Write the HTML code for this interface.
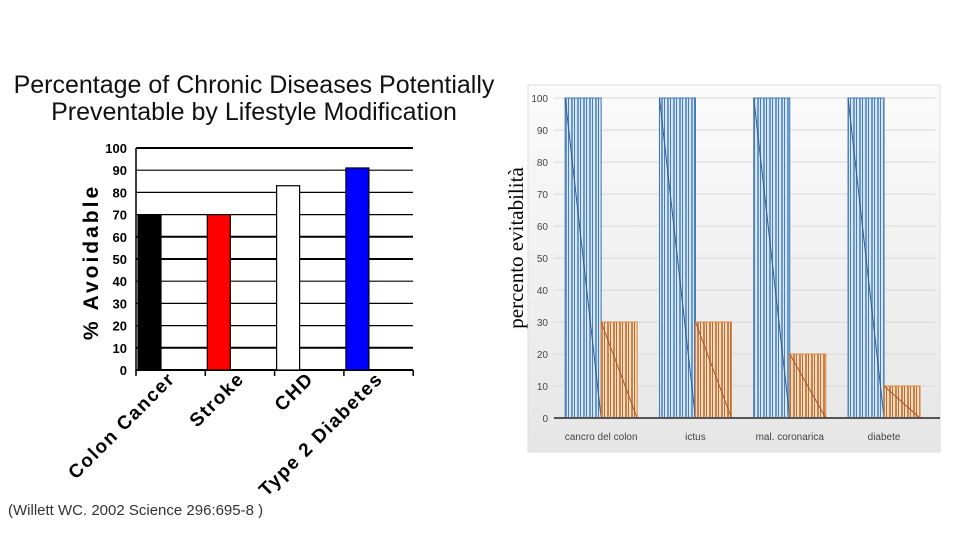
<!DOCTYPE html>
<html><head><meta charset="utf-8"><style>
body{margin:0;background:#fff;width:960px;height:540px;overflow:hidden;font-family:"Liberation Sans",sans-serif}
</style></head><body>
<svg width="960" height="540" xmlns="http://www.w3.org/2000/svg">
<defs>
<pattern id="pb" width="6" height="10" patternUnits="userSpaceOnUse"><rect width="6" height="10" fill="#d8e6f5"/><rect x="1" width="2" height="10" fill="#6a9bd0"/><rect x="4" width="1" height="10" fill="#4a7db8"/></pattern>
<pattern id="po" width="6" height="10" patternUnits="userSpaceOnUse"><rect width="6" height="10" fill="#f8dcc4"/><rect x="1" width="2" height="10" fill="#cc8247"/><rect x="4" width="1" height="10" fill="#bb6b30"/></pattern>
<linearGradient id="bg" x1="0" y1="0" x2="0" y2="1"><stop offset="0" stop-color="#fbfbfb"/><stop offset="1" stop-color="#e6e6e6"/></linearGradient>
</defs>
<g id="left">
<text x="254" y="93" text-anchor="middle" font-size="25" fill="#111">Percentage of Chronic Diseases Potentially</text>
<text x="254" y="120" text-anchor="middle" font-size="25" fill="#111">Preventable by Lifestyle Modification</text>
<text transform="translate(98,262) rotate(-90)" text-anchor="middle" font-size="21" font-weight="bold" letter-spacing="3">% Avoidable</text>
<g id="lgrid"></g>
<g id="lbars"></g>
<text x="8" y="515" font-size="15" fill="#333">(Willett WC. 2002 Science 296:695-8 )</text>
</g>
<g id="right">
<rect x="528" y="85" width="412" height="367" fill="url(#bg)" stroke="#ddd"/>
<text transform="translate(523,248) rotate(-90)" text-anchor="middle" font-size="21" font-family="Liberation Serif,serif">percento evitabilità</text>
<g id="rgrid"></g>
<g id="rbars"></g>
</g>
</svg>
<script>
const lCats=["Colon Cancer","Stroke","CHD","Type 2 Diabetes"];
const lVals=[70,70,83,91];
const lColors=["#000","#f00","#fff","#00f"];
const lTicks=[0,10,20,30,40,50,60,70,80,90,100];
const rCats=["cancro del colon","ictus","mal. coronarica","diabete"];
const rBlue=[100,100,100,100];
const rOrange=[30,30,20,10];
const rTicks=[0,10,20,30,40,50,60,70,80,90,100];
const NS="http://www.w3.org/2000/svg";
function mk(p,t,a){const e=document.createElementNS(NS,t);for(const k in a)e.setAttribute(k,a[k]);p.appendChild(e);return e;}
const ly=v=>370-v*2.22, lx0=136, lslot=69.3;
const lg=document.getElementById('lgrid'), lb=document.getElementById('lbars');
lTicks.forEach(t=>{
 const l=mk(lg,'line',{x1:lx0,x2:413,y1:ly(t),y2:ly(t),stroke:'#000','stroke-width':(t%50==0||t==10||t==60)?2:1.2});
 
 
 const tx=mk(lg,'text',{x:127,y:ly(t)+5,'text-anchor':'end','font-size':13,'font-weight':'bold'});
 tx.textContent=t;
 
 
});
for(let i=0;i<=4;i++){const k=mk(lg,'line',{x1:lx0+i*lslot,x2:lx0+i*lslot,y1:370,y2:376,stroke:'#000','stroke-width':1.5});
 
 }
mk(lg,'line',{x1:lx0,x2:lx0,y1:148,y2:372,stroke:'#000','stroke-width':1.5});
lVals.forEach((v,i)=>{
 const x=lx0+i*lslot+2;
 const r=mk(lb,'rect',{x:x,y:ly(v),width:23,height:370-ly(v),fill:lColors[i],stroke:'#000','stroke-width':1.2});
 
 
 const t=mk(lb,'text',{transform:`translate(${lx0+i*lslot+40},380) rotate(-45)`,'text-anchor':'end','font-size':19,'font-weight':'bold','letter-spacing':1.5});
 t.textContent=lCats[i];
 
 
});
const ry=v=>418-v*3.2, rx0=554, rslot=94.3;
const rg=document.getElementById('rgrid'), rb=document.getElementById('rbars');
rTicks.forEach(t=>{
 if(t>0){const l=mk(rg,'line',{x1:rx0,x2:935,y1:ry(t),y2:ry(t),stroke:'#d8d8d8','stroke-width':1});
 
 }
 const tx=mk(rg,'text',{x:548,y:ry(t)+4,'text-anchor':'end','font-size':10,fill:'#444'});
 tx.textContent=t;
 
 
});
rCats.forEach((c,i)=>{
 const cx=rx0+rslot*(i+0.5);
 [[rBlue[i],cx-36,'url(#pb)','#3f74b2','#2d5b8f'],[rOrange[i],cx,'url(#po)','#d9853f','#a65424']].forEach((s,j)=>{
  const r=mk(rb,'rect',{x:s[1],y:ry(s[0]),width:36,height:418-ry(s[0]),fill:s[2],stroke:s[3],'stroke-width':1});
  
  
  const d=mk(rb,'line',{x1:s[1],y1:ry(s[0]),x2:s[1]+36,y2:418,stroke:s[4],'stroke-width':1});
  
  
 });
 const t=mk(rb,'text',{x:cx,y:440,'text-anchor':'middle','font-size':10,fill:'#444'});
 t.textContent=c;
 
 
});
const ax=mk(rb,'line',{x1:rx0,x2:940,y1:418,y2:418,stroke:'#555','stroke-width':2});


</script>
</body></html>
